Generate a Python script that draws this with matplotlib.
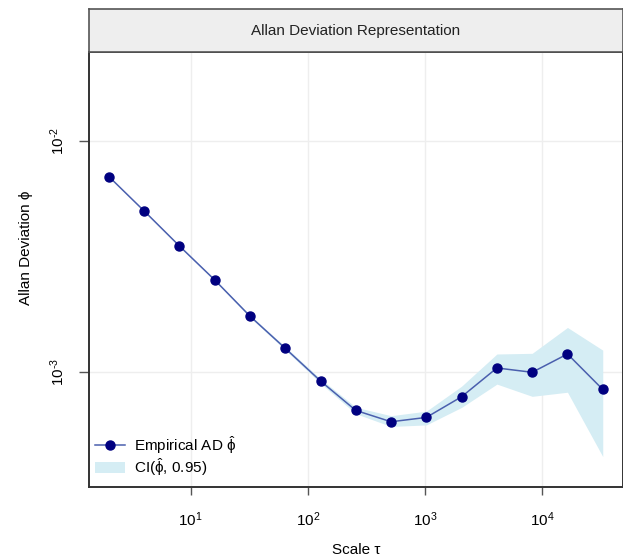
import matplotlib
matplotlib.use("Agg")
import matplotlib.pyplot as plt
from matplotlib.lines import Line2D
from matplotlib.patches import Patch

plt.rcParams['font.family'] = ['Liberation Sans', 'DejaVu Sans']
plt.rcParams['mathtext.fontset'] = 'custom'
plt.rcParams['mathtext.rm'] = 'Liberation Sans'
plt.rcParams['mathtext.it'] = 'Liberation Sans:italic'

# Allan deviation estimates and 95% confidence bounds
tau = [2, 4, 8, 16, 32, 64, 128, 256, 512, 1024, 2048, 4096, 8192, 16384, 32768]
ad = [7.03e-3, 4.99e-3, 3.52e-3, 2.51e-3, 1.75e-3, 1.27e-3, 9.17e-4, 6.84e-4,
      6.11e-4, 6.38e-4, 7.84e-4, 1.044e-3, 1.0e-3, 1.20e-3, 8.43e-4]
ci_upper = [7.05e-3, 5.01e-3, 3.54e-3, 2.53e-3, 1.77e-3, 1.29e-3, 9.38e-4, 7.06e-4,
            6.49e-4, 6.79e-4, 8.71e-4, 1.20e-3, 1.208e-3, 1.563e-3, 1.247e-3]
ci_lower = [7.01e-3, 4.97e-3, 3.50e-3, 2.49e-3, 1.73e-3, 1.25e-3, 8.96e-4, 6.62e-4,
            5.83e-4, 5.92e-4, 7.05e-4, 8.89e-4, 7.87e-4, 8.20e-4, 4.32e-4]

W, H = 623, 559
fig = plt.figure(figsize=(W / 100, H / 100), dpi=100)

# panel and strip placement (pixels)
left, right, top, bottom = 89, 622.5, 52, 487
strip_top = 9
ax = fig.add_axes([left / W, 1 - bottom / H, (right - left) / W, (bottom - top) / H])
strip = fig.add_axes([left / W, 1 - top / H, (right - left) / W, (top - strip_top) / H])

ci_col = '#d5edf4'
ax.fill_between(tau, ci_lower, ci_upper, color=ci_col, linewidth=0, zorder=2)
ax.plot(tau, ad, color='#4a5fae', linewidth=1.1, zorder=3)
ax.plot(tau, ad, 'o', color='#000080', markersize=6.5, zorder=4)

ax.set_xscale('log')
ax.set_yscale('log')
ax.set_xlim(1.355, 48300)
ax.set_ylim(3.19e-4, 2.43e-2)

fs = 11
ax.set_xticks([10, 100, 1000, 10000])
ax.set_xticklabels([r'$10^{1}$', r'$10^{2}$', r'$10^{3}$', r'$10^{4}$'], fontsize=fs)
ax.set_yticks([1e-3, 1e-2])
ax.set_yticklabels([r'$10^{\text{-}3}$', r'$10^{\text{-}2}$'], fontsize=fs,
                   rotation=90, va='center')
ax.minorticks_off()
ax.tick_params(axis='x', direction='out', length=6, width=1, color='#555555', pad=11)
ax.tick_params(axis='y', direction='out', length=7, width=1, color='#555555', pad=8.5)
ax.grid(True, color='#eeeeee', linewidth=1, zorder=0)

for s in ax.spines.values():
    s.set_color('#333333')
    s.set_linewidth(1.4)

ax.set_xlabel('Scale τ', fontsize=fs, labelpad=10)
ax.set_ylabel('Allan Deviation ϕ', fontsize=fs)
ax.yaxis.set_label_coords(-0.105, 0.549)

handles = [Line2D([0], [0], color='#4a5fae', linewidth=1.1, marker='o',
                  markerfacecolor='#000080', markeredgecolor='#000080', markersize=6.5),
           Patch(facecolor=ci_col, edgecolor='none')]
labels = [r'Empirical AD $\mathrm{\hat{\phi}}$', r'CI($\mathrm{\hat{\phi}}$, 0.95)']
ax.legend(handles, labels, loc='lower left', frameon=False, fontsize=fs,
          handlelength=2.0, handletextpad=0.6, labelspacing=0.0,
          bbox_to_anchor=(-0.015, -0.01))

# facet strip on top
strip.set_facecolor('#eeeeee')
strip.set_xticks([])
strip.set_yticks([])
for s in strip.spines.values():
    s.set_color('#555555')
    s.set_linewidth(1.2)
strip.text(0.5, 0.5, 'Allan Deviation Representation', ha='center', va='center',
           fontsize=fs, color='#222222', transform=strip.transAxes)

fig.savefig('out.png', dpi=100)
